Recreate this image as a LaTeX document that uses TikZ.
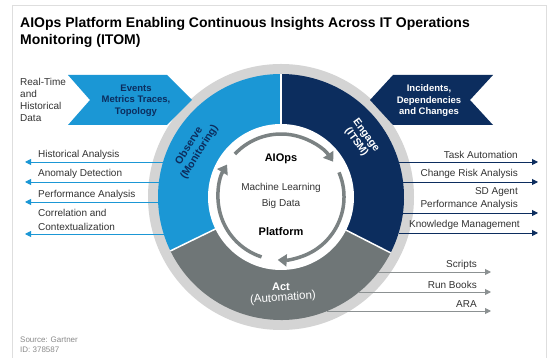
\documentclass[tikz,border=0pt]{standalone}
\usepackage{fontspec}
\setmainfont{Liberation Sans}
\usetikzlibrary{arrows.meta}
\definecolor{obsblue}{HTML}{1B97D5}
\definecolor{navy}{HTML}{0C2D5E}
\definecolor{actgray}{HTML}{6F7677}
\definecolor{ringgray}{HTML}{D4D4D4}
\definecolor{arrowgray}{HTML}{7B8283}
\definecolor{linegray}{HTML}{8C9192}
\definecolor{txtgray}{HTML}{333333}
\definecolor{srcgray}{HTML}{8A8A8A}
\definecolor{framegray}{HTML}{DEDEDE}
\begin{document}
\begin{tikzpicture}[x=1pt,y=1pt,
  lbl/.style={inner sep=0pt, font=\fontsize{10}{12}\selectfont, text=txtgray},
  chevtxt/.style={inner sep=0pt, align=center, font=\fontsize{9.5}{11.5}\selectfont\bfseries},
  seglbl/.style={inner sep=0pt, align=center, font=\fontsize{10.5}{12}\selectfont\bfseries},
  innertxt/.style={inner sep=0pt, font=\fontsize{10}{12}\selectfont, text=txtgray},
  innerbold/.style={inner sep=0pt, font=\fontsize{11}{13}\selectfont\bfseries, text=black},
  larrow/.style={draw=obsblue, line width=0.9pt, -{Triangle[length=6pt,width=6pt]}},
  rarrow/.style={draw=navy, line width=0.9pt, -{Triangle[length=6pt,width=6pt]}},
  barrow/.style={draw=linegray, line width=0.9pt, -{Triangle[length=6pt,width=6pt]}},
  inarrow/.style={draw=arrowgray, line width=3.5pt, -{Triangle[length=9pt,width=12pt]}}]
\useasboundingbox (0,0) rectangle (549,358);
\fill[white] (0,0) rectangle (549,358);
\draw[framegray, line width=0.8pt] (12,0) -- (12,353) -- (546,353) -- (546,0);

% title
\node[anchor=base west, inner sep=0pt, font=\fontsize{14}{16}\selectfont\bfseries, text=black] (title1) at (20,330) {AIOps Platform Enabling Continuous Insights Across IT Operations};
\node[anchor=base west, inner sep=0pt, font=\fontsize{14}{16}\selectfont\bfseries, text=black] (title2) at (20,313) {Monitoring (ITOM)};

% ring
\coordinate (C) at (281,161);
\fill[ringgray] (C) circle[radius=133];
\fill[obsblue] (C) -- ++(90:123) arc[start angle=90,end angle=206,radius=123] -- cycle;
\fill[navy] (C) -- ++(-27:123) arc[start angle=-27,end angle=90,radius=123] -- cycle;
\fill[actgray] (C) -- ++(206:123) arc[start angle=206,end angle=333,radius=123] -- cycle;
\foreach \a in {90,206,333} \draw[white, line width=1.5pt] (C) -- ++(\a:123);
\fill[white] (C) circle[radius=73];

% inner arrows
\draw[inarrow] ([shift={(C)}]137:63) arc[start angle=137,end angle=34,radius=63];
\draw[inarrow] ([shift={(C)}]23:63) arc[start angle=23,end angle=-93,radius=63];
\draw[inarrow] ([shift={(C)}]-108:63) arc[start angle=-108,end angle=-211,radius=63];

% inner text
\node[innerbold] (aiops) at (281,199) {AIOps};
\node[innertxt] (ml) at (281,170) {Machine Learning};
\node[innertxt] (bd) at (281,154) {Big Data};
\node[innerbold] (platform) at (281,126) {Platform};

% segment labels
\node[seglbl, text=navy, rotate=58] (observe) at ([shift={(C)}]151:99) {Observe\\(Monitoring)};
\node[seglbl, text=white, rotate=-54] (engage) at ([shift={(C)}]36:99) {Engage\\(ITSM)};
\node[inner sep=0pt, font=\fontsize{11}{13}\selectfont\bfseries, text=white] (act) at (281,71) {Act};
\node[inner sep=0pt, font=\fontsize{11.5}{13}\selectfont, text=white, rotate=4] (automation) at (283,60) {(Automation)};

% chevrons
\fill[obsblue] (68,283) -- (167,283) -- (192,258) -- (167,233) -- (68,233) -- (90,258) -- cycle;
\node[chevtxt, text=navy] (events) at (136,257.5) {Events\\Metrics Traces,\\Topology};
\fill[navy] (370,258) -- (393,283) -- (493,283) -- (470,258) -- (493,233) -- (393,233) -- cycle;
\node[chevtxt, text=white] (incidents) at (429,257) {Incidents,\\Dependencies\\and Changes};

\node[lbl, anchor=west, align=left] (rt) at (20,258.5) {Real-Time\\and\\Historical\\Data};

% left arrows
\coordinate (l1s) at (163,196); \coordinate (l1e) at (25,196);
\coordinate (l2s) at (159,176); \coordinate (l2e) at (25,176);
\coordinate (l3s) at (158,156); \coordinate (l3e) at (25,156);
\coordinate (l4s) at (164,124); \coordinate (l4e) at (25,124);
\draw[larrow] (l1s) -- (l1e);
\draw[larrow] (l2s) -- (l2e);
\draw[larrow] (l3s) -- (l3e);
\draw[larrow] (l4s) -- (l4e);
\node[lbl, anchor=west] (ha) at (38,203) {Historical Analysis};
\node[lbl, anchor=west] (ad) at (38,184) {Anomaly Detection};
\node[lbl, anchor=west] (pa) at (38,163) {Performance Analysis};
\node[lbl, anchor=west, align=left, font=\fontsize{10}{14}\selectfont] (cc) at (38,138) {Correlation and\\Contextualization};

% right arrows
\coordinate (r1s) at (399,196); \coordinate (r1e) at (538,196);
\coordinate (r2s) at (403,176); \coordinate (r2e) at (538,176);
\coordinate (r3s) at (403,145); \coordinate (r3e) at (538,145);
\coordinate (r4s) at (399,125); \coordinate (r4e) at (538,125);
\draw[rarrow] (r1s) -- (r1e);
\draw[rarrow] (r2s) -- (r2e);
\draw[rarrow] (r3s) -- (r3e);
\draw[rarrow] (r4s) -- (r4e);
\node[lbl, anchor=east] (ta) at (518,203) {Task Automation};
\node[lbl, anchor=east] (cra) at (518,184) {Change Risk Analysis};
\node[lbl, anchor=east, align=right, font=\fontsize{10}{13}\selectfont] (sd) at (518,159.5) {SD Agent\\Performance Analysis};
\node[lbl, anchor=east] (km) at (520,133) {Knowledge Management};

% bottom arrows
\coordinate (b1s) at (378,86); \coordinate (b1e) at (491,86);
\coordinate (b2s) at (359,66); \coordinate (b2e) at (491,66);
\coordinate (b3s) at (327,47); \coordinate (b3e) at (491,47);
\draw[barrow] (b1s) -- (b1e);
\draw[barrow] (b2s) -- (b2e);
\draw[barrow] (b3s) -- (b3e);
\node[lbl, anchor=east] (scripts) at (477,93) {Scripts};
\node[lbl, anchor=east] (runbooks) at (477,73) {Run Books};
\node[lbl, anchor=east] (ara) at (477,54) {ARA};

% source
\node[inner sep=0pt, anchor=west, font=\fontsize{8}{10}\selectfont, text=srcgray] (src) at (20,18) {Source: Gartner};
\node[inner sep=0pt, anchor=west, font=\fontsize{8}{10}\selectfont, text=srcgray] (id) at (20,8) {ID: 378587};
\end{tikzpicture}
\end{document}
